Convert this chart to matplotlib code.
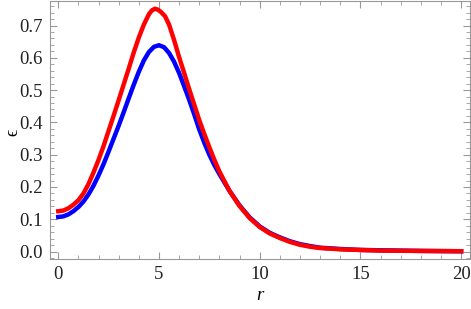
import matplotlib
matplotlib.use("Agg")
import matplotlib.pyplot as plt
from matplotlib.ticker import MultipleLocator

# values
r_blue = [0, 0.25, 0.5, 0.75, 1, 1.25, 1.5, 1.75, 2, 2.25, 2.5, 2.75, 3, 3.25,
          3.5, 3.75, 4, 4.25, 4.5, 4.75, 5, 5.25, 5.5, 5.75, 6, 6.25, 6.5, 6.75,
          7, 7.25, 7.5, 7.75, 8, 8.5, 9, 9.5, 10, 10.5, 11, 11.5, 12, 12.5, 13,
          14, 15, 16, 18, 20]
eps_blue = [0.107, 0.109, 0.115, 0.125, 0.138, 0.155, 0.177, 0.204, 0.236, 0.271,
            0.310, 0.350, 0.390, 0.432, 0.475, 0.517, 0.557, 0.592, 0.618, 0.634,
            0.639, 0.633, 0.615, 0.588, 0.553, 0.512, 0.470, 0.425, 0.378, 0.337,
            0.300, 0.268, 0.240, 0.188, 0.143, 0.106, 0.078, 0.058, 0.044, 0.032,
            0.023, 0.017, 0.012, 0.008, 0.005, 0.004, 0.002, 0.001]

r_red = [0, 0.25, 0.5, 0.75, 1, 1.25, 1.5, 1.75, 2, 2.25, 2.5, 2.75, 3, 3.25,
         3.5, 3.75, 4, 4.25, 4.5, 4.65, 4.8, 4.95, 5.1, 5.3, 5.5, 5.75, 6, 6.25,
         6.5, 6.75, 7, 7.25, 7.5, 7.75, 8, 8.5, 9, 9.5, 10, 10.5, 11, 11.5, 12,
         12.5, 13, 14, 15, 16, 18, 20]
eps_red = [0.125, 0.127, 0.134, 0.145, 0.159, 0.180, 0.209, 0.245, 0.284, 0.327,
           0.374, 0.421, 0.469, 0.518, 0.567, 0.617, 0.663, 0.703, 0.735, 0.747,
           0.752, 0.749, 0.742, 0.729, 0.703, 0.655, 0.602, 0.553, 0.503, 0.455,
           0.407, 0.364, 0.323, 0.284, 0.248, 0.188, 0.141, 0.104, 0.076, 0.056,
           0.042, 0.030, 0.021, 0.015, 0.011, 0.007, 0.005, 0.003, 0.002, 0.001]

plt.rcParams['font.family'] = ['Liberation Serif', 'DejaVu Serif']

fig = plt.figure(figsize=(4.71, 3.09), dpi=100)
ax = fig.add_axes([50/471, 50/309, 420/471, 258/309])

ax.plot(r_blue, eps_blue, color='#0000ff', lw=3.2, solid_joinstyle='round')
ax.plot(r_red, eps_red, color='#ff0000', lw=3.2, solid_joinstyle='round')

ax.set_xlim(-0.41, 20.44)
ax.set_ylim(-0.023, 0.776)

ax.xaxis.set_major_locator(MultipleLocator(5))
ax.xaxis.set_minor_locator(MultipleLocator(1))
ax.yaxis.set_major_locator(MultipleLocator(0.1))
ax.yaxis.set_minor_locator(MultipleLocator(0.02))
ax.yaxis.set_major_formatter(plt.FuncFormatter(lambda v, p: f"{v:.1f}"))

gray = '#999999'
for s in ax.spines.values():
    s.set_color(gray)
    s.set_linewidth(0.8)
ax.tick_params(which='both', direction='in', top=True, right=True,
               color=gray, labelsize=13.5, labelcolor='#222222')
ax.tick_params(which='major', length=5, width=0.8, pad=5)
ax.tick_params(which='minor', length=3, width=0.6)

ax.set_xlabel('r', fontsize=13.5, fontstyle='italic', labelpad=3)
ax.set_ylabel('ϵ', fontsize=13)
ax.yaxis.set_label_coords(-0.068, 0.49)

fig.savefig('out.png', dpi=100)
